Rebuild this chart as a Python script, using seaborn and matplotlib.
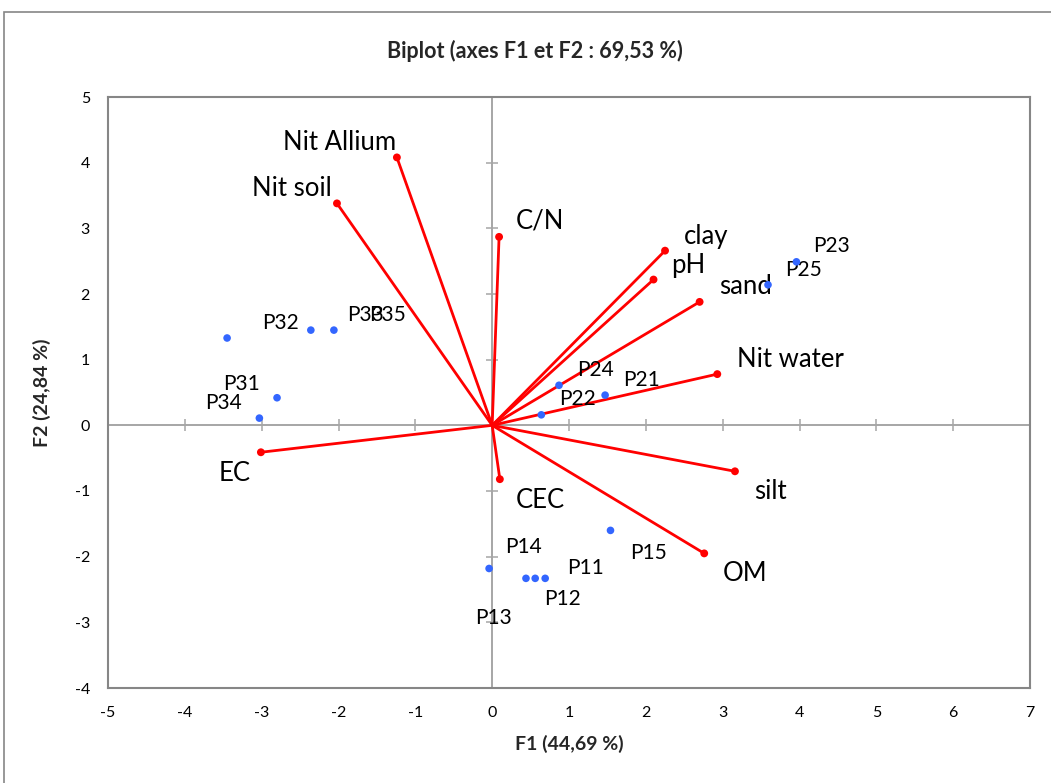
import matplotlib
matplotlib.use("Agg")
import matplotlib.pyplot as plt
import seaborn as sns
import pandas as pd
from matplotlib.patches import Rectangle

# ====================
# DATOS (coordenadas F1, F2)
# ====================
obs_names = ["P11", "P12", "P13", "P14", "P15",
             "P21", "P22", "P23", "P24", "P25",
             "P31", "P32", "P33", "P34", "P35"]
obs_f1 = [0.69, 0.44, 0.56, -0.04, 1.54,
          1.47, 0.64, 3.96, 0.87, 3.59,
          -2.80, -2.36, -3.45, -3.03, -2.06]
obs_f2 = [-2.33, -2.33, -2.33, -2.18, -1.60,
          0.46, 0.16, 2.49, 0.61, 2.14,
          0.42, 1.45, 1.33, 0.11, 1.45]

var_names = ["Nit Allium", "Nit soil", "C/N", "clay", "pH", "sand",
             "Nit water", "silt", "OM", "CEC", "EC"]
var_f1 = [-1.24, -2.02, 0.09, 2.25, 2.10, 2.70, 2.93, 3.16, 2.76, 0.10, -3.01]
var_f2 = [4.08, 3.38, 2.87, 2.66, 2.22, 1.88, 0.78, -0.70, -1.95, -0.82, -0.41]

x_ticks = list(range(-5, 8))
y_ticks = list(range(-4, 6))

# posicion de etiquetas (pixeles respecto al punto)
obs_offsets = {
    "P11": (40, 12), "P12": (37, -19), "P13": (-42, -38), "P14": (34, 23),
    "P15": (38, -21), "P21": (36, 17), "P22": (36, 18), "P23": (35, 18),
    "P24": (36, 17), "P25": (36, 17), "P31": (-36, 16), "P32": (-30, 9),
    "P33": (138, 25), "P34": (-36, 17), "P35": (54, 17),
}
var_offsets = {
    "Nit Allium": (-57, 17), "Nit soil": (-45, 17), "C/N": (41, 18),
    "clay": (41, 16), "pH": (35, 16), "sand": (46, 17), "Nit water": (73, 17),
    "silt": (35, -18), "OM": (41, -18), "CEC": (40, -19), "EC": (-26, -19),
}

df_obs = pd.DataFrame({"F1": obs_f1, "F2": obs_f2, "name": obs_names})
df_var = pd.DataFrame({"F1": var_f1, "F2": var_f2, "name": var_names})

# ====================
# ESTILO
# ====================
sns.set_theme(style="white")
plt.rcParams["font.family"] = ["Lato", "DejaVu Sans"]
plt.rcParams["axes.unicode_minus"] = False

frame_col = "#868686"
axis_col = "#a6a6a6"

fig = plt.figure(figsize=(10.51, 7.83), dpi=100)
fig.patch.set_facecolor("white")
pos = [108 / 1051, 1 - 688 / 783, (1030 - 108) / 1051, (688 - 97) / 783]

# ejes en cero con marcas cruzadas (debajo)
ax2 = fig.add_axes(pos)
ax2.set_zorder(0)
ax2.set_xlim(-5, 7)
ax2.set_ylim(-4, 5)
ax2.set_xticks(x_ticks)
ax2.set_yticks(y_ticks)
for s in ["top", "right"]:
    ax2.spines[s].set_visible(False)
for s in ["left", "bottom"]:
    ax2.spines[s].set_position(("data", 0))
    ax2.spines[s].set_color(axis_col)
    ax2.spines[s].set_linewidth(1.4)
ax2.tick_params(direction="inout", length=8, width=1.1, color=axis_col,
                labelleft=False, labelbottom=False, left=True, bottom=True)

ax = fig.add_axes(pos)
ax.set_zorder(1)
ax.patch.set_visible(False)

for x, y in zip(var_f1, var_f2):
    ax.plot([0, x], [0, y], color="red", lw=2, solid_capstyle="round")
sns.scatterplot(data=df_var, x="F1", y="F2", color="red", s=32,
                edgecolor="none", ax=ax, zorder=3)
sns.scatterplot(data=df_obs, x="F1", y="F2", color="#3366ff", s=30,
                edgecolor="none", ax=ax, zorder=4)

for _, r in df_obs.iterrows():
    dx, dy = obs_offsets[r["name"]]
    ax.annotate(r["name"], (r["F1"], r["F2"]), xytext=(dx, dy - 2),
                textcoords="offset pixels", ha="center", va="center",
                fontsize=15, color="black")
for _, r in df_var.iterrows():
    dx, dy = var_offsets[r["name"]]
    ax.annotate(r["name"], (r["F1"], r["F2"]), xytext=(dx, dy - 2),
                textcoords="offset pixels", ha="center", va="center",
                fontsize=18.5, color="black")

ax.set_xlim(-5, 7)
ax.set_ylim(-4, 5)
ax.set_xticks(x_ticks)
ax.set_yticks(y_ticks)
ax.tick_params(length=0, pad=13, labelsize=11.5, colors="black")
for s in ax.spines.values():
    s.set_color(frame_col)
    s.set_linewidth(1.5)
ax.set_xlabel("F1 (44,69 %)", fontsize=14, fontweight="bold", labelpad=11)
ax.set_ylabel("F2 (24,84 %)", fontsize=14, fontweight="bold", labelpad=17)
ax.set_title("Biplot (axes F1 et F2 : 69,53 %)", fontsize=15.5,
             fontweight="bold", pad=28, x=0.463)

# borde exterior del grafico
fig.add_artist(Rectangle((4 / 1051, -0.1), 1.2, 1.1 - 12 / 783,
                         transform=fig.transFigure, fill=False,
                         edgecolor=frame_col, lw=1.2))

fig.savefig("out.png", dpi=100)
